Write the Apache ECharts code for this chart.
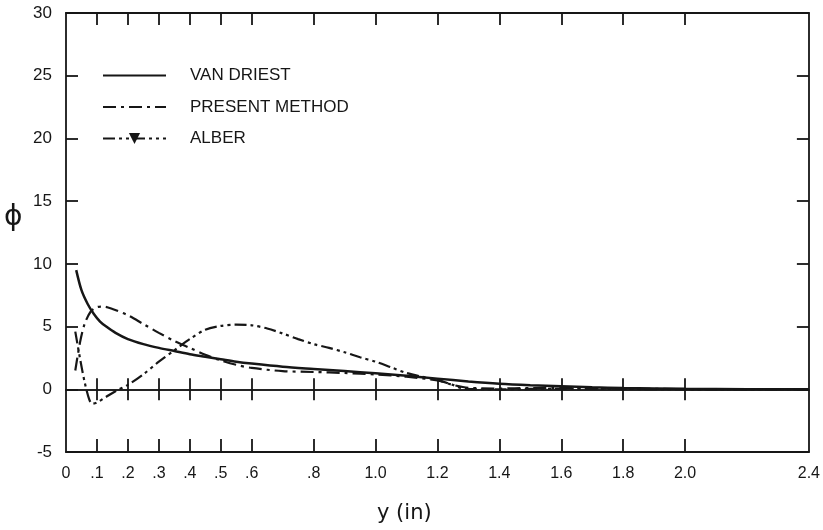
<!DOCTYPE html>
<html>
<head>
<meta charset="utf-8">
<script src="https://cdn.jsdelivr.net/npm/echarts@6/dist/echarts.min.js"></script>
<style>
  html, body { margin: 0; padding: 0; background: #fff; }
  #chart { width: 823px; height: 530px; }
</style>
</head>
<body>
<div id="chart"></div>
<script>
// tick marks and labels on the y (in) axis
var xTickValues = [0.1, 0.2, 0.3, 0.4, 0.5, 0.6, 0.8, 1.0, 1.2, 1.4, 1.6, 1.8, 2.0];
var xLabelValues = [0, 0.1, 0.2, 0.3, 0.4, 0.5, 0.6, 0.8, 1.0, 1.2, 1.4, 1.6, 1.8, 2.0, 2.4];
var xLabelTexts = ['0', '.1', '.2', '.3', '.4', '.5', '.6', '.8', '1.0', '1.2', '1.4', '1.6', '1.8', '2.0', '2.4'];

var seriesNames = ['VAN DRIEST', 'PRESENT METHOD', 'ALBER'];

// VAN DRIEST
var vanDriestY = [0.033, 0.05, 0.07, 0.09, 0.11, 0.13, 0.16, 0.2, 0.25, 0.3, 0.35, 0.4, 0.45, 0.5, 0.55, 0.6, 0.7, 0.8, 0.9, 1.0, 1.1, 1.2, 1.3, 1.4, 1.5, 1.6, 1.7, 1.8, 2.0, 2.2, 2.4];
var vanDriestPhi = [9.5, 7.9, 6.8, 6.0, 5.4, 5.0, 4.5, 4.0, 3.6, 3.3, 3.05, 2.8, 2.6, 2.4, 2.2, 2.05, 1.8, 1.62, 1.45, 1.27, 1.07, 0.85, 0.63, 0.45, 0.33, 0.24, 0.16, 0.1, 0.04, 0.01, 0];

// PRESENT METHOD
var presentY = [0.03, 0.045, 0.06, 0.08, 0.1, 0.12, 0.15, 0.2, 0.25, 0.3, 0.35, 0.4, 0.45, 0.5, 0.55, 0.6, 0.7, 0.8, 0.9, 1.0, 1.1, 1.2, 1.25, 1.3, 1.4, 1.5, 1.6, 1.8, 2.0, 2.4];
var presentPhi = [1.5, 3.7, 5.2, 6.2, 6.55, 6.6, 6.4, 5.9, 5.2, 4.5, 3.85, 3.3, 2.75, 2.3, 1.95, 1.7, 1.45, 1.38, 1.3, 1.18, 1.0, 0.7, 0.35, 0.12, 0.06, 0.1, 0.1, 0.05, 0.02, 0];

// ALBER
var alberY = [0.03, 0.045, 0.06, 0.075, 0.085, 0.1, 0.13, 0.16, 0.2, 0.25, 0.3, 0.35, 0.4, 0.45, 0.5, 0.55, 0.6, 0.65, 0.7, 0.75, 0.8, 0.85, 0.9, 0.95, 1.0, 1.05, 1.1, 1.15, 1.2, 1.25, 1.29, 1.4, 1.6, 1.8, 2.0, 2.4];
var alberPhi = [4.6, 2.5, 0.6, -0.8, -1.15, -1.05, -0.6, -0.15, 0.35, 1.2, 2.2, 3.1, 4.0, 4.75, 5.05, 5.15, 5.1, 4.85, 4.45, 4.0, 3.6, 3.3, 2.95, 2.55, 2.2, 1.75, 1.3, 1.0, 0.75, 0.35, 0.03, 0, 0.05, 0.03, 0, 0];

function pairs(xs, ys) {
    return xs.map(function(x, i) { return [x, ys[i]]; });
}

var ink = '#161616';
var labelFont = 'Liberation Sans';

var chart = echarts.init(document.getElementById('chart'));

var frameLine = { lineStyle: { color: ink, width: 1.8 }, onZero: false };
var tickStyle = { color: ink, width: 1.8 };

var option = {
    backgroundColor: '#fff',
    animation: false,
    grid: { left: 66, right: 13, top: 13, bottom: 78 },
    legend: {
        orient: 'vertical',
        left: 97,
        top: 62,
        itemWidth: 63,
        itemHeight: 14,
        itemGap: 14.5,
        selectedMode: false,
        textStyle: { color: ink, fontSize: 17, fontFamily: labelFont, lineHeight: 16, padding: [0, 0, 0, 19] },
        data: [
            { name: seriesNames[0], itemStyle: { opacity: 0 } },
            { name: seriesNames[1], itemStyle: { opacity: 0 } },
            { name: seriesNames[2] }
        ]
    },
    xAxis: [
        {
            type: 'value', min: 0, max: 2.4, position: 'bottom',
            axisLine: frameLine,
            axisTick: { inside: true, length: 13, customValues: xTickValues, lineStyle: tickStyle },
            axisLabel: {
                customValues: xLabelValues,
                margin: 14,
                color: ink, fontSize: 16, fontFamily: labelFont,
                formatter: function(v) {
                    var i = xLabelValues.indexOf(v);
                    return i >= 0 ? xLabelTexts[i] : '';
                }
            },
            splitLine: { show: false }
        },
        {
            type: 'value', min: 0, max: 2.4, position: 'top',
            axisLine: frameLine,
            axisTick: { inside: true, length: 12, customValues: xTickValues, lineStyle: tickStyle },
            axisLabel: { show: false },
            splitLine: { show: false }
        },
        // the phi = 0 line, with ticks crossing it
        {
            type: 'value', min: 0, max: 2.4, position: 'bottom',
            axisLine: { onZero: true, onZeroAxisIndex: 0, lineStyle: { color: ink, width: 1.6 } },
            axisTick: { inside: true, length: 11, customValues: xTickValues, lineStyle: tickStyle },
            axisLabel: { show: false },
            splitLine: { show: false }
        },
        {
            type: 'value', min: 0, max: 2.4, position: 'bottom',
            axisLine: { onZero: true, onZeroAxisIndex: 0, lineStyle: { color: ink, width: 1.6 } },
            axisTick: { inside: false, length: 11, customValues: xTickValues, lineStyle: tickStyle },
            axisLabel: { show: false },
            splitLine: { show: false }
        }
    ],
    yAxis: [
        {
            type: 'value', min: -5, max: 30, interval: 5, position: 'left',
            axisLine: frameLine,
            axisTick: { inside: true, length: 12, lineStyle: tickStyle },
            axisLabel: { margin: 14, color: ink, fontSize: 17, fontFamily: labelFont },
            splitLine: { show: false }
        },
        {
            type: 'value', min: -5, max: 30, interval: 5, position: 'right',
            axisLine: frameLine,
            axisTick: { inside: true, length: 12, lineStyle: tickStyle },
            axisLabel: { show: false },
            splitLine: { show: false }
        }
    ],
    graphic: [
        { type: 'text', left: 4, top: 204, style: { text: 'ϕ', fill: ink, font: '28px "DejaVu Sans"' } },
        { type: 'text', left: 377, top: 503, style: { text: 'y (in)', fill: ink, font: '21px "DejaVu Sans"' } }
    ],
    series: [
        {
            name: seriesNames[0], type: 'line', xAxisIndex: 0, yAxisIndex: 0,
            data: pairs(vanDriestY, vanDriestPhi),
            smooth: 0.3, symbol: 'none',
            lineStyle: { color: ink, width: 2.5, type: 'solid' },
            itemStyle: { color: ink }
        },
        {
            name: seriesNames[1], type: 'line', xAxisIndex: 0, yAxisIndex: 0,
            data: pairs(presentY, presentPhi),
            smooth: 0.3, symbol: 'none',
            lineStyle: { color: ink, width: 2.2, type: [13, 5, 3, 5] },
            itemStyle: { color: ink }
        },
        {
            name: seriesNames[2], type: 'line', xAxisIndex: 0, yAxisIndex: 0,
            data: pairs(alberY, alberPhi),
            smooth: 0.3, symbol: 'triangle', symbolRotate: 180, symbolSize: 7, showSymbol: false,
            lineStyle: { color: ink, width: 2.2, type: [12, 4, 3, 4, 3, 4] },
            itemStyle: { color: ink }
        }
    ]
};

chart.setOption(option);
</script>
</body>
</html>
